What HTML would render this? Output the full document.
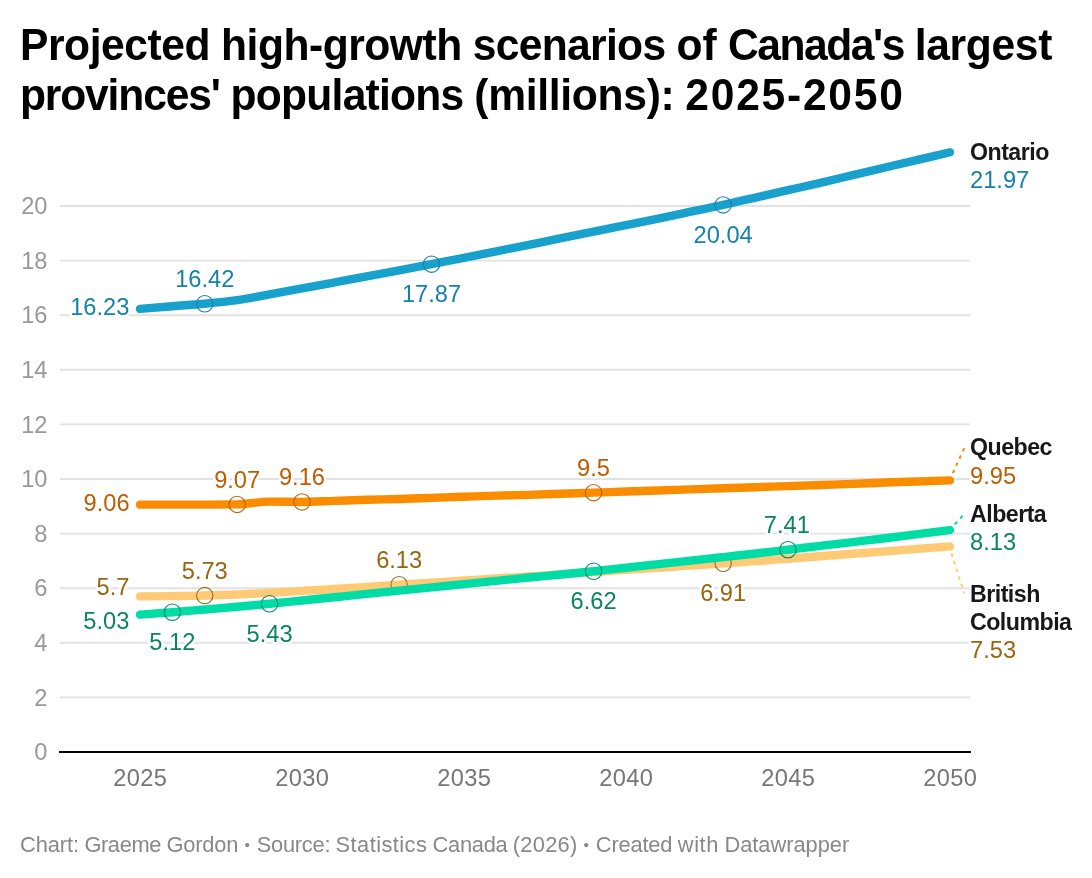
<!DOCTYPE html>
<html lang="en">
<head>
<meta charset="utf-8">
<title>Projected high-growth scenarios of Canada's largest provinces' populations (millions): 2025-2050</title>
<style>
html,body{margin:0;padding:0;background:#fff;}
body{width:1092px;height:878px;position:relative;overflow:hidden;font-family:"Liberation Sans",sans-serif;}
h1{position:absolute;left:20px;top:19.9px;margin:0;font-weight:bold;font-size:42.6px;line-height:50px;color:#000;white-space:nowrap;}
h1 span,footer span{position:absolute;white-space:pre;}
h1 span{transform-origin:0 39.76px;transform:scaleY(1.045);}
svg{position:absolute;left:0;top:0;}
svg text{font-family:"Liberation Sans",sans-serif;}
.g{stroke:#e2e2e2;stroke-width:1.9;}
.yt{font-size:23.66px;fill:#999;text-anchor:end;}
.xt{font-size:23.66px;fill:#777;text-anchor:middle;letter-spacing:0.4px;}
.v{font-size:23.66px;paint-order:stroke;stroke:#fff;stroke-width:5px;stroke-linejoin:round;}
.n{font-size:23.2px;letter-spacing:-0.52px;font-weight:bold;fill:#181818;paint-order:stroke;stroke:#fff;stroke-width:4px;stroke-linejoin:round;}
footer{position:absolute;left:20px;top:831.8px;font-size:21.84px;line-height:26px;color:#888;white-space:nowrap;}
</style>
</head>
<body>
<h1><span style="top:0px;left:0.0px;letter-spacing:-0.433px">Projected</span> <span style="top:0px;left:201.1px;letter-spacing:-0.491px">high-growth</span> <span style="top:0px;left:452.7px;letter-spacing:-0.678px">scenarios</span> <span style="top:0px;left:656.4px;letter-spacing:0.200px">of</span> <span style="top:0px;left:707.9px;letter-spacing:-1.463px">Canada's</span> <span style="top:0px;left:894.8px;letter-spacing:-0.357px">largest</span>
<span style="top:50px;left:0.0px;letter-spacing:-1.170px">provinces'</span> <span style="top:50px;left:210.6px;letter-spacing:-0.773px">populations</span> <span style="top:50px;left:454.3px;letter-spacing:-0.309px">(millions):</span> <span style="top:50px;left:665.3px;letter-spacing:1.733px">2025-2050</span></h1>
<svg width="1092" height="878" viewBox="0 0 1092 878">
<line class="g" x1="60" x2="970" y1="697.40" y2="697.40"/>
<line class="g" x1="60" x2="970" y1="642.80" y2="642.80"/>
<line class="g" x1="60" x2="970" y1="588.20" y2="588.20"/>
<line class="g" x1="60" x2="970" y1="533.60" y2="533.60"/>
<line class="g" x1="60" x2="970" y1="479.00" y2="479.00"/>
<line class="g" x1="60" x2="970" y1="424.40" y2="424.40"/>
<line class="g" x1="60" x2="970" y1="369.80" y2="369.80"/>
<line class="g" x1="60" x2="970" y1="315.20" y2="315.20"/>
<line class="g" x1="60" x2="970" y1="260.60" y2="260.60"/>
<line class="g" x1="60" x2="970" y1="206.00" y2="206.00"/>
<text class="yt" x="47.5" y="760.20">0</text>
<text class="yt" x="47.5" y="705.60">2</text>
<text class="yt" x="47.5" y="651.00">4</text>
<text class="yt" x="47.5" y="596.40">6</text>
<text class="yt" x="47.5" y="541.80">8</text>
<text class="yt" x="47.5" y="487.20">10</text>
<text class="yt" x="47.5" y="432.60">12</text>
<text class="yt" x="47.5" y="378.00">14</text>
<text class="yt" x="47.5" y="323.40">16</text>
<text class="yt" x="47.5" y="268.80">18</text>
<text class="yt" x="47.5" y="214.20">20</text>
<text class="xt" x="140.25" y="786">2025</text>
<text class="xt" x="302.25" y="786">2030</text>
<text class="xt" x="464.25" y="786">2035</text>
<text class="xt" x="626.25" y="786">2040</text>
<text class="xt" x="788.25" y="786">2045</text>
<text class="xt" x="950.25" y="786">2050</text>
<path d="M139.95,596.39C150.75,596.32,161.55,596.25,172.35,596.12C183.15,595.98,193.95,595.84,204.75,595.57C215.55,595.30,226.35,594.93,237.15,594.48C247.95,594.02,258.75,593.43,269.55,592.84C280.35,592.25,291.15,591.57,301.95,590.93C312.75,590.29,323.55,589.70,334.35,589.02C345.15,588.34,355.95,587.56,366.75,586.84C377.55,586.11,388.35,585.33,399.15,584.65C409.95,583.97,420.75,583.42,431.55,582.74C442.35,582.06,453.15,581.28,463.95,580.56C474.75,579.83,485.55,579.05,496.35,578.37C507.15,577.69,517.95,577.14,528.75,576.46C539.55,575.78,550.35,575.00,561.15,574.28C571.95,573.55,582.75,572.82,593.55,572.09C604.35,571.36,615.15,570.64,625.95,569.91C636.75,569.18,647.55,568.45,658.35,567.73C669.15,567.00,679.95,566.27,690.75,565.54C701.55,564.81,712.35,564.08,723.15,563.36C733.95,562.63,744.75,561.95,755.55,561.17C766.35,560.40,777.15,559.53,787.95,558.72C798.75,557.90,809.55,557.08,820.35,556.26C831.15,555.44,841.95,554.62,852.75,553.80C863.55,552.98,874.35,552.16,885.15,551.35C895.95,550.53,906.75,549.71,917.55,548.89C928.35,548.07,939.15,547.25,949.95,546.43" fill="none" stroke="#ffca76" stroke-width="8.4" stroke-linecap="round" stroke-linejoin="round"/>
<circle cx="204.75" cy="595.57" r="8.2" fill="none" stroke="#9a6c1a" stroke-width="1.1"/><circle cx="399.15" cy="584.65" r="8.2" fill="none" stroke="#9a6c1a" stroke-width="1.1"/><circle cx="723.15" cy="563.36" r="8.2" fill="none" stroke="#9a6c1a" stroke-width="1.1"/>
<path d="M139.95,614.68C150.75,613.88,161.55,613.09,172.35,612.22C183.15,611.36,193.95,610.40,204.75,609.49C215.55,608.58,226.35,607.72,237.15,606.76C247.95,605.81,258.75,604.81,269.55,603.76C280.35,602.71,291.15,601.58,301.95,600.49C312.75,599.39,323.55,598.30,334.35,597.21C345.15,596.12,355.95,595.02,366.75,593.93C377.55,592.84,388.35,591.75,399.15,590.66C409.95,589.56,420.75,588.47,431.55,587.38C442.35,586.29,453.15,585.20,463.95,584.11C474.75,583.01,485.55,581.92,496.35,580.83C507.15,579.74,517.95,578.60,528.75,577.55C539.55,576.51,550.35,575.60,561.15,574.55C571.95,573.50,582.75,572.41,593.55,571.27C604.35,570.14,615.15,568.91,625.95,567.73C636.75,566.54,647.55,565.36,658.35,564.18C669.15,562.99,679.95,561.81,690.75,560.63C701.55,559.44,712.35,558.26,723.15,557.08C733.95,555.89,744.75,554.76,755.55,553.53C766.35,552.30,777.15,550.98,787.95,549.71C798.75,548.43,809.55,547.16,820.35,545.88C831.15,544.61,841.95,543.34,852.75,542.06C863.55,540.79,874.35,539.56,885.15,538.24C895.95,536.92,906.75,535.51,917.55,534.15C928.35,532.78,939.15,531.42,949.95,530.05" fill="none" stroke="#00dca6" stroke-width="8.4" stroke-linecap="round" stroke-linejoin="round"/>
<circle cx="172.35" cy="612.22" r="8.2" fill="none" stroke="#0d8a66" stroke-width="1.1"/><circle cx="269.55" cy="603.76" r="8.2" fill="none" stroke="#0d8a66" stroke-width="1.1"/><circle cx="593.55" cy="571.27" r="8.2" fill="none" stroke="#0d8a66" stroke-width="1.1"/><circle cx="787.95" cy="549.71" r="8.2" fill="none" stroke="#0d8a66" stroke-width="1.1"/>
<path d="M139.95,504.66C150.75,504.66,161.55,504.66,172.35,504.66C183.15,504.66,193.95,504.66,204.75,504.66C215.55,504.66,226.35,504.57,237.15,504.39C247.95,504.21,258.75,501.66,269.55,501.66C280.35,501.66,291.15,501.93,301.95,501.93C312.75,501.93,323.55,501.20,334.35,500.84C345.15,500.48,355.95,500.07,366.75,499.75C377.55,499.43,388.35,499.25,399.15,498.93C409.95,498.61,420.75,498.20,431.55,497.84C442.35,497.47,453.15,497.11,463.95,496.75C474.75,496.38,485.55,495.97,496.35,495.65C507.15,495.33,517.95,495.15,528.75,494.83C539.55,494.52,550.35,494.11,561.15,493.74C571.95,493.38,582.75,493.01,593.55,492.65C604.35,492.29,615.15,491.92,625.95,491.56C636.75,491.19,647.55,490.83,658.35,490.47C669.15,490.10,679.95,489.74,690.75,489.37C701.55,489.01,712.35,488.65,723.15,488.28C733.95,487.92,744.75,487.55,755.55,487.19C766.35,486.83,777.15,486.46,787.95,486.10C798.75,485.73,809.55,485.37,820.35,485.01C831.15,484.64,841.95,484.32,852.75,483.91C863.55,483.50,874.35,482.96,885.15,482.55C895.95,482.14,906.75,481.82,917.55,481.46C928.35,481.09,939.15,480.73,949.95,480.37" fill="none" stroke="#fa8c00" stroke-width="8.4" stroke-linecap="round" stroke-linejoin="round"/>
<circle cx="237.15" cy="504.39" r="8.2" fill="none" stroke="#b8600a" stroke-width="1.1"/><circle cx="301.95" cy="501.93" r="8.2" fill="none" stroke="#b8600a" stroke-width="1.1"/><circle cx="593.55" cy="492.65" r="8.2" fill="none" stroke="#b8600a" stroke-width="1.1"/>
<path d="M139.95,308.92C150.75,307.99,161.55,307.06,172.35,306.19C183.15,305.33,193.95,304.73,204.75,303.73C215.55,302.73,226.35,301.73,237.15,300.18C247.95,298.64,258.75,296.41,269.55,294.45C280.35,292.50,291.15,290.45,301.95,288.45C312.75,286.44,323.55,284.44,334.35,282.44C345.15,280.44,355.95,278.44,366.75,276.43C377.55,274.43,388.35,272.48,399.15,270.43C409.95,268.38,420.75,266.24,431.55,264.15C442.35,262.06,453.15,260.01,463.95,257.87C474.75,255.73,485.55,253.50,496.35,251.32C507.15,249.13,517.95,246.95,528.75,244.77C539.55,242.58,550.35,240.40,561.15,238.21C571.95,236.03,582.75,233.85,593.55,231.66C604.35,229.48,615.15,227.29,625.95,225.11C636.75,222.93,647.55,220.79,658.35,218.56C669.15,216.33,679.95,214.01,690.75,211.73C701.55,209.46,712.35,207.27,723.15,204.91C733.95,202.54,744.75,199.99,755.55,197.54C766.35,195.08,777.15,192.62,787.95,190.17C798.75,187.71,809.55,185.30,820.35,182.79C831.15,180.29,841.95,177.70,852.75,175.15C863.55,172.60,874.35,170.05,885.15,167.51C895.95,164.96,906.75,162.41,917.55,159.86C928.35,157.31,939.15,154.77,949.95,152.22" fill="none" stroke="#18a1cd" stroke-width="8.4" stroke-linecap="round" stroke-linejoin="round"/>
<circle cx="204.75" cy="303.73" r="8.2" fill="none" stroke="#1a7fa3" stroke-width="1.1"/><circle cx="431.55" cy="264.15" r="8.2" fill="none" stroke="#1a7fa3" stroke-width="1.1"/><circle cx="723.15" cy="204.91" r="8.2" fill="none" stroke="#1a7fa3" stroke-width="1.1"/>
<line x1="59" x2="971" y1="752" y2="752" stroke="#000" stroke-width="2.1"/>
<line x1="952.8" y1="473.2" x2="964.4" y2="447.7" stroke="#fa8c00" stroke-width="2" stroke-dasharray="3.6,4.4"/>
<line x1="954.8" y1="524.4" x2="963.9" y2="514.3" stroke="#00dca6" stroke-width="2" stroke-dasharray="3.6,4.4"/>
<line x1="951.4" y1="553.4" x2="964.2" y2="593.3" stroke="#ffca76" stroke-width="2" stroke-dasharray="3.6,4.4"/>
<text class="v" x="129.40" y="314.80" fill="#1681a9" text-anchor="end">16.23</text>
<text class="v" x="204.75" y="287.13" fill="#1681a9" text-anchor="middle">16.42</text>
<text class="v" x="431.55" y="302.05" fill="#1681a9" text-anchor="middle">17.87</text>
<text class="v" x="723.15" y="242.81" fill="#1681a9" text-anchor="middle">20.04</text>
<text class="v" x="129.60" y="510.80" fill="#bf5b00" text-anchor="end">9.06</text>
<text class="v" x="237.15" y="487.79" fill="#bf5b00" text-anchor="middle">9.07</text>
<text class="v" x="301.95" y="485.33" fill="#bf5b00" text-anchor="middle">9.16</text>
<text class="v" x="593.55" y="476.05" fill="#bf5b00" text-anchor="middle">9.5</text>
<text class="v" x="129.40" y="594.60" fill="#97660f" text-anchor="end">5.7</text>
<text class="v" x="204.75" y="578.97" fill="#97660f" text-anchor="middle">5.73</text>
<text class="v" x="399.15" y="568.05" fill="#97660f" text-anchor="middle">6.13</text>
<text class="v" x="723.15" y="601.26" fill="#97660f" text-anchor="middle">6.91</text>
<text class="v" x="129.40" y="628.60" fill="#0a8560" text-anchor="end">5.03</text>
<text class="v" x="172.35" y="650.12" fill="#0a8560" text-anchor="middle">5.12</text>
<text class="v" x="269.55" y="641.66" fill="#0a8560" text-anchor="middle">5.43</text>
<text class="v" x="593.55" y="609.17" fill="#0a8560" text-anchor="middle">6.62</text>
<text class="v" x="786.80" y="533.11" fill="#0a8560" text-anchor="middle">7.41</text>
<text class="n" transform="translate(970.00,159.60) scale(1,1.06)">Ontario</text>
<text class="v" x="970.00" y="187.50" fill="#1681a9" text-anchor="start">21.97</text>
<text class="n" transform="translate(970.00,455.40) scale(1,1.06)">Quebec</text>
<text class="v" x="970.00" y="483.80" fill="#bf5b00" text-anchor="start">9.95</text>
<text class="n" transform="translate(970.00,521.80) scale(1,1.06)">Alberta</text>
<text class="v" x="970.00" y="549.50" fill="#0a8560" text-anchor="start">8.13</text>
<text class="n" transform="translate(970.00,601.50) scale(1,1.06)">British</text>
<text class="n" transform="translate(970.00,629.70) scale(1,1.06)">Columbia</text>
<text class="v" x="970.00" y="658.10" fill="#97660f" text-anchor="start">7.53</text>
</svg>
<footer><span style="left:0.0px;letter-spacing:-0.100px">Chart:</span> <span style="left:64.4px;letter-spacing:-0.383px">Graeme</span> <span style="left:146.4px;letter-spacing:-0.150px">Gordon</span> <span style="left:224.4px;font-size:15.5px">•</span> <span style="left:236.7px;letter-spacing:-0.243px">Source:</span> <span style="left:315.6px;letter-spacing:0.430px">Statistics</span> <span style="left:412.6px;letter-spacing:-0.283px">Canada</span> <span style="left:492.8px;letter-spacing:0.267px">(2026)</span> <span style="left:563.6px;font-size:15.5px">•</span> <span style="left:575.8px;letter-spacing:-0.171px">Created</span> <span style="left:657.8px;letter-spacing:0.600px">with</span> <span style="left:704.4px;letter-spacing:-0.009px">Datawrapper</span></footer>
</body>
</html>
